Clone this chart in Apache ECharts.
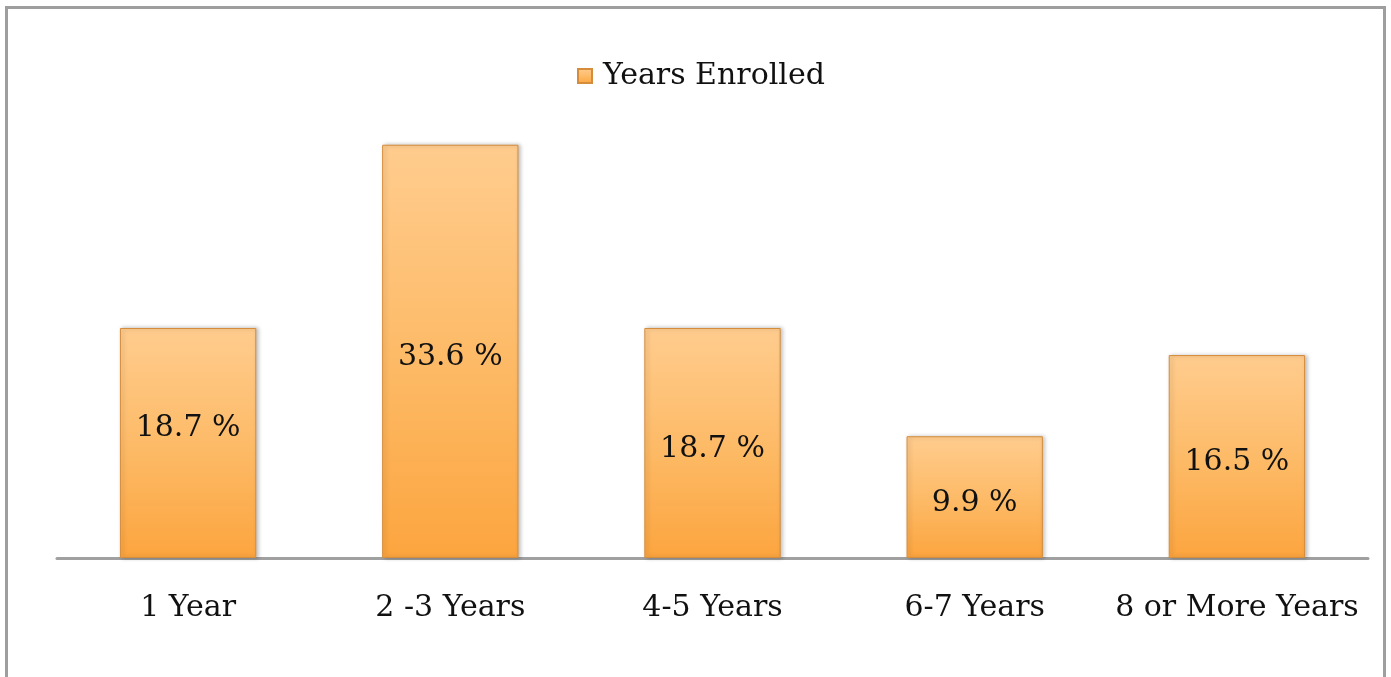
<!DOCTYPE html>
<html>
<head>
<meta charset="utf-8">
<script src="https://cdn.jsdelivr.net/npm/echarts@6/dist/echarts.min.js"></script>
<style>
  html, body { margin: 0; padding: 0; background: #fff; }
  #frame {
    position: absolute; left: 5px; top: 6px; width: 1375px; height: 700px;
    border: 3px solid #9e9e9e; border-bottom: none; box-sizing: content-box;
  }
  #chart { position: absolute; left: 0; top: 0; width: 1391px; height: 677px; }
</style>
</head>
<body>
<div id="frame"></div>
<div id="chart"></div>
<script>
// values
const categories = ['1 Year', '2 -3 Years', '4-5 Years', '6-7 Years', '8 or More Years'];
const percents = [18.7, 33.6, 18.7, 9.9, 16.5];
const seriesName = 'Years Enrolled';

const serif = '"DejaVu Serif", "Liberation Serif", serif';

// first label sits a bit higher in the original
const barData = percents.map((v, i) => i === 0
  ? { value: v, label: { offset: [0, -15] } }
  : v);

const chart = echarts.init(document.getElementById('chart'));
chart.setOption({
  animation: false,
  legend: {
    data: [seriesName],
    top: 56,
    left: 572,
    icon: 'rect',
    itemWidth: 14,
    itemHeight: 14,
    textStyle: { fontFamily: serif, fontSize: 30, color: '#111', padding: [0, 0, 0, 6] }
  },
  grid: { left: 57, right: 23, top: 127.5, bottom: 119 },
  xAxis: {
    type: 'category',
    data: categories,
    axisLine: { lineStyle: { color: '#a0a0a0', width: 3 } },
    axisTick: { show: false },
    axisLabel: { interval: 0, fontFamily: serif, fontSize: 30, color: '#111', margin: 35 }
  },
  yAxis: {
    type: 'value', min: 0, max: 35, show: false
  },
  series: [{
    name: seriesName,
    type: 'bar',
    data: barData,
    barWidth: '52%',
    itemStyle: {
      color: new echarts.graphic.LinearGradient(0, 0, 0, 1, [
        { offset: 0, color: '#ffcc8e' },
        { offset: 0.5, color: '#fdbb68' },
        { offset: 1, color: '#fca53f' }
      ]),
      borderColor: '#d58d3c',
      borderWidth: 1,
      shadowColor: 'rgba(0,0,0,0.25)',
      shadowBlur: 4,
      shadowOffsetX: 2
    },
    label: {
      show: true,
      position: 'inside',
      offset: [0, 6],
      formatter: p => p.value + ' %',
      fontFamily: serif,
      fontSize: 30,
      color: '#111'
    }
  }]
});
</script>
</body>
</html>
